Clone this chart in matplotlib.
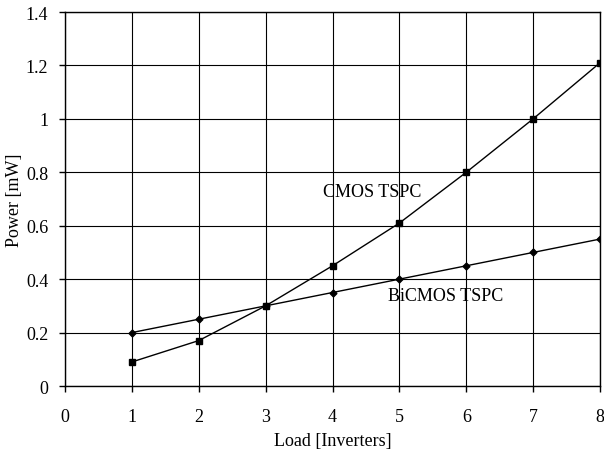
import matplotlib
matplotlib.use("Agg")
import matplotlib.pyplot as plt

plt.rcParams['font.family'] = ['Liberation Serif', 'DejaVu Serif']

load = [1, 2, 3, 4, 5, 6, 7, 8]
cmos_tspc = [0.09, 0.17, 0.30, 0.45, 0.61, 0.80, 1.00, 1.21]
bicmos_tspc = [0.20, 0.25, 0.30, 0.35, 0.40, 0.45, 0.50, 0.55]
xticks = [0, 1, 2, 3, 4, 5, 6, 7, 8]
yticks = [0, 0.2, 0.4, 0.6, 0.8, 1, 1.2, 1.4]
ytick_labels = ["0", "0.2", "0.4", "0.6", "0.8", "1", "1.2", "1.4"]

fig = plt.figure(figsize=(6.04, 4.52), dpi=100)
ax = fig.add_axes([0.1076, 0.1438, 0.8858, 0.8274])

ax.plot(load, cmos_tspc, color='black', lw=1, marker='s', ms=4.5)
ax.plot(load, bicmos_tspc, color='black', lw=1, marker='D', ms=3.5)

ax.set_xlim(0, 8)
ax.set_ylim(0, 1.4)
ax.set_xticks(xticks)
ax.set_yticks(yticks)
ax.set_yticklabels(ytick_labels)
ax.grid(True, color='black', lw=0.8)
for s in ax.spines.values():
    s.set_linewidth(1)
ax.tick_params(direction='out', length=4, width=1, labelsize=13, pad=8)
ax.tick_params(axis='x', pad=12)

ax.text(3.86, 0.728, "CMOS TSPC", fontsize=13, va='center')
ax.text(4.83, 0.337, "BiCMOS TSPC", fontsize=13, va='center')

ax.set_xlabel("Load [Inverters]", fontsize=13, labelpad=5)
ax.set_ylabel("Power [mW]", fontsize=13)
ax.yaxis.set_label_coords(-0.078, 0.5)

fig.savefig("out.png", dpi=100)
